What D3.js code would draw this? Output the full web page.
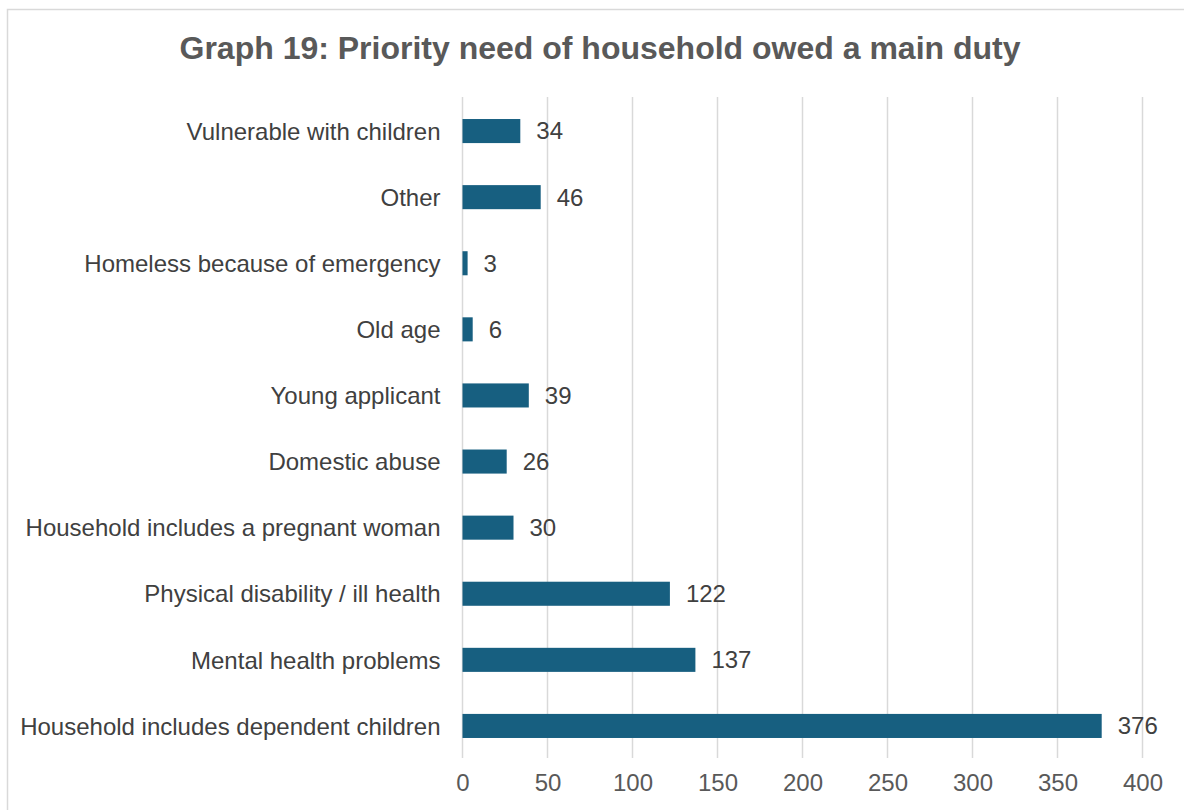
<!DOCTYPE html>
<html>
<head>
<meta charset="utf-8">
<script src="https://cdn.jsdelivr.net/npm/d3@7"></script>
<style>
  body { margin: 0; background: #fff; }
  svg { display: block; font-family: "Liberation Sans", Arial, sans-serif; }
</style>
</head>
<body>
<div id="chart"></div>
<script>
const w = 1184;
const h = 810;

// data, top to bottom as drawn
const categories = [
	'Vulnerable with children',
	'Other',
	'Homeless because of emergency',
	'Old age',
	'Young applicant',
	'Domestic abuse',
	'Household includes a pregnant woman',
	'Physical disability / ill health',
	'Mental health problems',
	'Household includes dependent children'
];
const values = [34, 46, 3, 6, 39, 26, 30, 122, 137, 376];
const xTicks = [0, 50, 100, 150, 200, 250, 300, 350, 400];

const rows = categories.map((c, i) => ({cat: c, val: values[i]}));

const svg = d3
	.select('#chart')
	.append('svg')
	.attr('width', w)
	.attr('height', h);

// chart frame
svg
	.append('rect')
	.attr('x', 7.5)
	.attr('y', 9.5)
	.attr('width', w + 10)
	.attr('height', h + 10)
	.attr('fill', '#fff')
	.attr('stroke', '#d9d9d9')
	.attr('stroke-width', 1.5);

svg
	.append('text')
	.attr('x', 600)
	.attr('y', 59)
	.style('text-anchor', 'middle')
	.style('font-size', '32px')
	.style('font-weight', 'bold')
	.attr('fill', '#595959')
	.text('Graph 19: Priority need of household owed a main duty');

const xScale = d3.scaleLinear().domain([0, 400]).range([462.5, 1142.5]);

const yScale = d3
	.scaleBand()
	.domain(categories)
	.range([97, 758])
	.paddingInner(0.636)
	.paddingOuter(0.318);

// gridlines
svg
	.append('g')
	.selectAll('line')
	.data(xTicks)
	.enter()
	.append('line')
	.attr('x1', d => xScale(d))
	.attr('x2', d => xScale(d))
	.attr('y1', 97)
	.attr('y2', 758)
	.attr('stroke', '#d9d9d9')
	.attr('stroke-width', 1.5);

// bars
svg
	.selectAll('rect.bar')
	.data(rows)
	.enter()
	.append('rect')
	.attr('class', 'bar')
	.attr('x', xScale(0))
	.attr('y', d => yScale(d.cat) + 1)
	.attr('width', d => xScale(d.val) - xScale(0))
	.attr('height', yScale.bandwidth())
	.attr('fill', '#175f80');

// value labels
svg
	.selectAll('text.val')
	.data(rows)
	.enter()
	.append('text')
	.attr('class', 'val')
	.attr('x', d => xScale(d.val) + 16)
	.attr('y', d => yScale(d.cat) + yScale.bandwidth() / 2 + 1)
	.attr('dy', '0.35em')
	.style('font-size', '24px')
	.attr('fill', '#404040')
	.text(d => d.val);

// category axis
const yAxis = d3.axisLeft(yScale).tickSize(0).tickPadding(22);
const yG = svg
	.append('g')
	.attr('transform', `translate(${xScale(0)}, 2)`)
	.call(yAxis);
yG.select('.domain').remove();
yG.selectAll('text')
	.style('font-size', '24px')
	.style('font-family', '"Liberation Sans", Arial, sans-serif')
	.attr('fill', '#404040');

// value axis
const xAxis = d3.axisBottom(xScale).tickValues(xTicks).tickSize(0).tickPadding(16);
const xG = svg
	.append('g')
	.attr('transform', 'translate(0, 758)')
	.call(xAxis);
xG.select('.domain').remove();
xG.selectAll('text')
	.style('font-size', '24px')
	.style('font-family', '"Liberation Sans", Arial, sans-serif')
	.attr('fill', '#595959');
</script>
</body>
</html>
